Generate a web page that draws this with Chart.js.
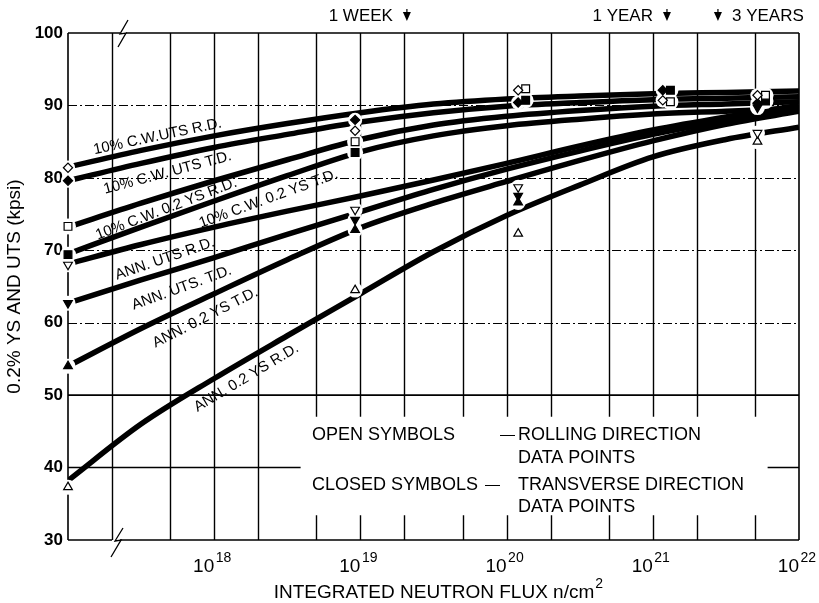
<!DOCTYPE html>
<html>
<head>
<meta charset="utf-8">
<script src="https://cdn.jsdelivr.net/npm/chart.js@4.4.1/dist/chart.umd.min.js"></script>
<style>
  html, body { margin: 0; padding: 0; background: #fff; }
</style>
</head>
<body>
<canvas id="myChart" width="819" height="603"></canvas>
<script>
// fitted curves, values (kpsi)
const curveFlux = [1e17, 3.16e17, 1e18, 3.16e18, 1e19, 3.16e19, 1e20, 3.16e20, 1e21, 3.16e21, 1e22];
const cwUtsRD  = [81.5, 83.8, 85.8, 87.5, 89.0, 90.2, 90.9, 91.3, 91.6, 91.8, 92.0];
const cwUtsTD  = [79.6, 82.0, 84.2, 86.0, 87.7, 89.0, 89.9, 90.4, 90.8, 91.0, 91.2];
const cwYsRD   = [73.2, 76.5, 79.6, 82.5, 85.3, 87.3, 88.5, 89.3, 89.9, 90.2, 90.5];
const cwYsTD   = [69.5, 73.2, 76.8, 80.3, 83.6, 85.8, 87.2, 88.1, 88.8, 89.2, 89.6];
const annUtsRD = [68.1, 70.8, 73.2, 75.4, 77.5, 79.7, 82.0, 84.4, 86.6, 88.4, 90.0];
const annUtsTD = [62.7, 65.9, 69.0, 72.2, 75.3, 78.4, 81.2, 83.7, 86.0, 87.9, 89.6];
const annYsTD  = [54.0, 59.2, 64.0, 68.7, 73.1, 76.5, 79.5, 82.4, 85.1, 87.4, 89.2];
const annYsRD  = [38.2, 46.0, 52.3, 58.2, 64.0, 69.8, 74.8, 79.0, 82.9, 85.3, 87.0];

// data points
const diamondFlux = [1e17, 9.2e18, 1.2e20, 1.17e21, 5.2e21];
const squareFlux  = [1e17, 9.2e18, 1.35e20, 1.32e21, 5.9e21];
const annFlux     = [1e17, 9.2e18, 1.2e20, 5.2e21];
const cwUtsRDpts  = [81.4, 86.5, 92.1, 90.7, 91.4];   // open diamond
const cwUtsTDpts  = [79.6, 88.0, 90.4, 92.1, 90.3];   // closed diamond
const cwYsRDpts   = [73.3, 85.0, 92.3, 90.5, 91.4];   // open square
const cwYsTDpts   = [69.4, 83.5, 90.7, 92.1, 90.6];   // closed square
const annUtsRDpts = [68.0, 75.6, 78.7, 86.2];         // open inverted triangle
const annUtsTDpts = [62.7, 74.2, 77.5, 89.7];         // closed inverted triangle
const annYsTDpts  = [54.0, 72.8, 76.6];               // closed triangle
const annYsRDpts  = [37.3, 64.5, 72.3, 85.0];         // open triangle

// axes
const xGridFlux = [2e17, 5e17, 1e18, 2e18, 5e18, 1e19, 2e19, 5e19, 1e20, 2e20, 5e20, 1e21, 2e21, 5e21];
const xTickExps = [18, 19, 20, 21, 22];
const dashedLevels = [60, 70, 80, 90];
const timeMarks = [
    { label: '1 WEEK', flux: 2.08e19, side: 'left' },
    { label: '1 YEAR', flux: 1.25e21, side: 'left' },
    { label: '3 YEARS', flux: 2.79e21, side: 'right' }
];

const FONT = '"Liberation Sans", Arial, Helvetica, sans-serif';

const series = [
    { line: cwUtsRD,  pts: cwUtsRDpts,  flux: diamondFlux, shape: 'rectRot',  r: 4.6, open: true,  rot: 0,
      text: '10% C.W.UTS R.D.', at: [4.1e17, 85.7], ang: 12 },
    { line: cwUtsTD,  pts: cwUtsTDpts,  flux: diamondFlux, shape: 'rectRot',  r: 4.6, open: false, rot: 0,
      text: '10% C.W. UTS T.D.', at: [4.8e17, 80.7], ang: 15 },
    { line: cwYsRD,   pts: cwYsRDpts,   flux: squareFlux,  shape: 'rect',     r: 5.5, open: true,  rot: 0,
      text: '10% C.W. 0.2 YS R.D.', at: [4.7e17, 75.7], ang: 21 },
    { line: cwYsTD,   pts: cwYsTDpts,   flux: squareFlux,  shape: 'rect',     r: 5.5, open: false, rot: 0,
      text: '10% C.W. 0.2 YS T.D.', at: [2.35e18, 77.1], ang: 20 },
    { line: annUtsRD, pts: annUtsRDpts, flux: annFlux,     shape: 'triangle', r: 5,   open: true,  rot: 180,
      text: 'ANN. UTS R.D.', at: [4.6e17, 68.8], ang: 19 },
    { line: annUtsTD, pts: annUtsTDpts, flux: annFlux,     shape: 'triangle', r: 5,   open: false, rot: 180,
      text: 'ANN. UTS. T.D.', at: [6.0e17, 64.8], ang: 20 },
    { line: annYsTD,  pts: annYsTDpts,  flux: annFlux,     shape: 'triangle', r: 5,   open: false, rot: 0,
      text: 'ANN. 0.2 YS T.D.', at: [8.7e17, 60.7], ang: 27 },
    { line: annYsRD,  pts: annYsRDpts,  flux: annFlux,     shape: 'triangle', r: 5,   open: true,  rot: 0,
      text: 'ANN. 0.2 YS R.D.', at: [1.66e18, 52.4], ang: 31 }
];

const datasets = [];
series.forEach(s => {
    datasets.push({
        data: curveFlux.map((f, i) => ({ x: f, y: s.line[i] })),
        showLine: true,
        borderColor: '#000',
        borderWidth: 5.5,
        cubicInterpolationMode: 'monotone',
        pointRadius: 0,
        order: 3
    });
    const pts = s.pts.map((v, i) => ({ x: s.flux[i], y: v }));
    // white gap round each data point, as on the original
    datasets.push({
        data: pts,
        showLine: false,
        pointStyle: 'circle',
        pointRadius: s.r + 2.5,
        pointBackgroundColor: '#fff',
        pointBorderColor: '#fff',
        pointBorderWidth: 0,
        clip: false,
        order: 2
    });
    datasets.push({
        data: pts,
        showLine: false,
        pointStyle: s.shape,
        pointRotation: s.rot,
        pointRadius: s.r,
        pointBackgroundColor: s.open ? '#fff' : '#000',
        pointBorderColor: '#000',
        pointBorderWidth: 1.2,
        clip: false,
        order: 1
    });
});

const paperPlugin = {
    id: 'paper',
    beforeDatasetsDraw(chart) {
        const { ctx, chartArea: a, scales: { x, y } } = chart;
        ctx.save();
        ctx.strokeStyle = '#000';

        ctx.lineWidth = 1.4;
        xGridFlux.forEach(f => {
            const px = Math.round(x.getPixelForValue(f)) + 0.5;
            ctx.beginPath();
            if (f >= 5e18) {
                ctx.moveTo(px, a.top);
                ctx.lineTo(px, y.getPixelForValue(47));
                ctx.moveTo(px, y.getPixelForValue(33.4));
                ctx.lineTo(px, a.bottom);
            } else {
                ctx.moveTo(px, a.top);
                ctx.lineTo(px, a.bottom);
            }
            ctx.stroke();
        });

        ctx.lineWidth = 1;
        ctx.setLineDash([9, 3, 2, 3]);
        dashedLevels.forEach(v => {
            const py = Math.round(y.getPixelForValue(v)) + 0.5;
            ctx.beginPath();
            ctx.moveTo(a.left, py);
            ctx.lineTo(a.right, py);
            ctx.stroke();
        });
        ctx.setLineDash([]);

        ctx.lineWidth = 1.6;
        let py = y.getPixelForValue(50);
        ctx.beginPath();
        ctx.moveTo(a.left, py);
        ctx.lineTo(a.right, py);
        py = y.getPixelForValue(40);
        ctx.moveTo(a.left, py);
        ctx.lineTo(x.getPixelForValue(3.9e18), py);
        ctx.moveTo(x.getPixelForValue(6.1e21), py);
        ctx.lineTo(a.right, py);
        ctx.stroke();

        // frame with axis breaks
        ctx.lineWidth = 1.6;
        ctx.beginPath();
        ctx.moveTo(a.left, a.top);
        ctx.lineTo(a.left, a.bottom);
        ctx.moveTo(a.right, a.top);
        ctx.lineTo(a.right, a.bottom);
        ctx.moveTo(a.left, a.top);
        ctx.lineTo(a.left + 52, a.top);
        ctx.moveTo(a.left + 58, a.top);
        ctx.lineTo(a.right, a.top);
        ctx.moveTo(a.left, a.bottom);
        ctx.lineTo(a.left + 44, a.bottom);
        ctx.moveTo(a.left + 52, a.bottom);
        ctx.lineTo(a.right, a.bottom);
        ctx.stroke();
        ctx.lineWidth = 1.3;
        ctx.beginPath();
        ctx.moveTo(a.left + 60, a.top - 13);
        ctx.lineTo(a.left + 52, a.top + 1);
        ctx.lineTo(a.left + 58, a.top);
        ctx.lineTo(a.left + 50, a.top + 14);
        ctx.moveTo(a.left + 55, a.bottom - 12);
        ctx.lineTo(a.left + 47, a.bottom + 1);
        ctx.lineTo(a.left + 53, a.bottom);
        ctx.lineTo(a.left + 43, a.bottom + 17);
        ctx.stroke();
        ctx.restore();
    },
    afterDraw(chart) {
        const { ctx, chartArea: a, scales: { x, y } } = chart;
        ctx.save();
        ctx.fillStyle = '#000';
        ctx.strokeStyle = '#000';

        // curve names
        ctx.font = '15px ' + FONT;
        ctx.textAlign = 'center';
        ctx.textBaseline = 'middle';
        series.forEach(s => {
            ctx.save();
            ctx.translate(x.getPixelForValue(s.at[0]), y.getPixelForValue(s.at[1]));
            ctx.rotate(-s.ang * Math.PI / 180);
            ctx.fillText(s.text, 0, 0);
            ctx.restore();
        });

        // note on symbols
        ctx.textAlign = 'left';
        ctx.textBaseline = 'alphabetic';
        ctx.font = '18px ' + FONT;
        ctx.fillText('OPEN SYMBOLS', 312, 440);
        ctx.fillText('CLOSED SYMBOLS', 312, 490);
        ctx.fillText('ROLLING DIRECTION', 518, 440);
        ctx.fillText('DATA POINTS', 518, 463);
        ctx.fillText('TRANSVERSE DIRECTION', 518, 490);
        ctx.fillText('DATA POINTS', 518, 512);
        ctx.font = '15px ' + FONT;
        ctx.fillText('\u2014', 500, 439);
        ctx.fillText('\u2014', 485, 489);

        // x tick labels 10^n
        xTickExps.forEach(e => {
            const px = x.getPixelForValue(Math.pow(10, e));
            ctx.font = '19px ' + FONT;
            ctx.textAlign = 'right';
            ctx.fillText('10', px, 572);
            ctx.font = '14px ' + FONT;
            ctx.textAlign = 'left';
            ctx.fillText(String(e), px + 1.5, 562);
        });

        // x axis title with superscript
        const main = 'INTEGRATED NEUTRON FLUX n/cm';
        ctx.font = '19px ' + FONT;
        const wMain = ctx.measureText(main).width;
        const left = (a.left + a.right) / 2 + 5 - (wMain + 9) / 2;
        ctx.textAlign = 'left';
        ctx.fillText(main, left, 598);
        ctx.font = '14px ' + FONT;
        ctx.fillText('2', left + wMain + 1, 588);

        // exposure time marks along the top
        ctx.font = '17px ' + FONT;
        timeMarks.forEach(m => {
            const px = x.getPixelForValue(m.flux);
            ctx.textAlign = m.side === 'left' ? 'right' : 'left';
            ctx.fillText(m.label, m.side === 'left' ? px - 14 : px + 14, 21);
            ctx.beginPath();
            ctx.moveTo(px - 4, 12);
            ctx.lineTo(px + 4, 12);
            ctx.lineTo(px, 21);
            ctx.closePath();
            ctx.fill();
            ctx.lineWidth = 1.2;
            ctx.beginPath();
            ctx.moveTo(px, 9);
            ctx.lineTo(px, 12);
            ctx.stroke();
        });
        ctx.restore();
    }
};

const ctx = document.getElementById('myChart').getContext('2d');
const chart = new Chart(ctx, {
    type: 'scatter',
    data: { datasets },
    options: {
        responsive: false,
        animation: false,
        layout: { padding: { top: 33, right: 20, left: 0, bottom: 0 } },
        plugins: { legend: { display: false }, tooltip: { enabled: false } },
        scales: {
            x: {
                type: 'logarithmic',
                min: 1e17,
                max: 1e22,
                grid: { display: false, drawTicks: false },
                border: { display: false },
                ticks: { display: false },
                afterFit: s => { s.height = 63; }
            },
            y: {
                min: 30,
                max: 100,
                grid: { display: false, drawTicks: false },
                border: { display: false },
                ticks: {
                    stepSize: 10,
                    padding: 5,
                    color: '#000',
                    font: { family: FONT, size: 17, weight: 'bold' }
                },
                title: {
                    display: true,
                    text: '0.2% YS AND UTS (kpsi)',
                    color: '#000',
                    font: { family: FONT, size: 19 },
                    padding: { top: 3, bottom: 0 }
                },
                afterFit: s => { s.width = 68; }
            }
        }
    },
    plugins: [paperPlugin]
});
</script>
</body>
</html>
